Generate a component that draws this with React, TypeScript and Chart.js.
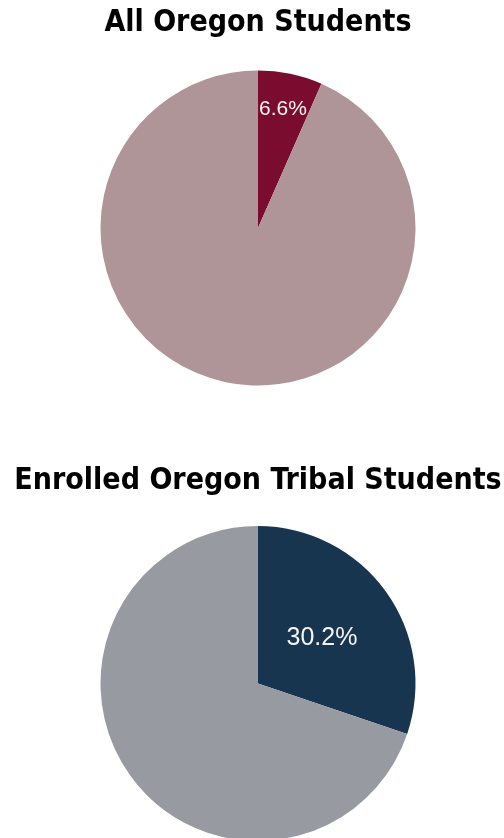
import React, { useEffect, useRef } from "react";
import { Chart, registerables } from "chart.js";

Chart.register(...registerables);

// ---- data ----
const allTitle = "All Oregon Students";
const allLabels = ["Chronically absent", "Not chronically absent"];
const allValues = [6.6, 93.4];
const allColors = ["#7a0d2f", "#b09598"];

const tribalTitle = "Enrolled Oregon Tribal Students";
const tribalLabels = ["Chronically absent", "Not chronically absent"];
const tribalValues = [30.2, 69.8];
const tribalColors = ["#18354f", "#979ba1"];

const TITLE_FONT = "'Liberation Sans Narrow', 'DejaVu Sans Condensed', Arial, sans-serif";
const LABEL_FONT = "'Liberation Sans', Arial, sans-serif";

const sliceLabelPlugin = {
  id: "sliceLabel",
  afterDatasetsDraw(chart: any, _args: any, opts: any) {
    const meta = chart.getDatasetMeta(0);
    const ds = chart.data.datasets[0];
    const ctx = chart.ctx;
    const arc = meta.data[0];
    if (!arc) return;
    const { x, y, startAngle, endAngle, outerRadius } = arc.getProps(
      ["x", "y", "startAngle", "endAngle", "outerRadius"],
      true
    );
    const mid = (startAngle + endAngle) / 2;
    const r = outerRadius * (opts.radiusFrac ?? 0.5);
    const lx = x + Math.cos(mid) * r;
    const ly = y + Math.sin(mid) * r;
    ctx.save();
    ctx.fillStyle = "#f4f4f4";
    ctx.font = `${opts.size ?? 20}px ${LABEL_FONT}`;
    ctx.textAlign = "center";
    ctx.textBaseline = "middle";
    ctx.fillText(ds.data[0].toFixed(1) + "%", lx, ly);
    ctx.restore();
  },
};

function PieChart(props: {
  title: string;
  labels: string[];
  values: number[];
  colors: string[];
  top: number;
  height: number;
  titlePadTop: number;
  titlePadBottom: number;
  padBottom: number;
  labelFrac: number;
  labelSize: number;
}) {
  const ref = useRef<HTMLCanvasElement | null>(null);
  useEffect(() => {
    if (!ref.current) return;
    const chart = new Chart(ref.current, {
      type: "pie",
      data: {
        labels: props.labels,
        datasets: [
          {
            data: props.values,
            backgroundColor: props.colors,
            borderWidth: 0,
            hoverOffset: 0,
          },
        ],
      },
      options: {
        responsive: false,
        animation: false,
        layout: { padding: { top: 0, bottom: props.padBottom, left: 12, right: 0 } },
        plugins: {
          legend: { display: false },
          tooltip: { enabled: false },
          title: {
            display: true,
            text: props.title,
            color: "#000",
            font: { family: TITLE_FONT, size: 30, weight: "bold" },
            padding: { top: props.titlePadTop, bottom: props.titlePadBottom },
          },
          sliceLabel: { radiusFrac: props.labelFrac, size: props.labelSize },
        } as any,
      },
      plugins: [sliceLabelPlugin],
    });
    return () => chart.destroy();
  }, []);
  return (
    <canvas
      ref={ref}
      width={504}
      height={props.height}
      style={{ position: "absolute", left: 0, top: props.top, width: 504, height: props.height }}
    />
  );
}

export default function App() {
  return (
    <div
      style={{
        position: "fixed",
        left: 0,
        top: 0,
        width: 504,
        height: 838,
        overflow: "hidden",
        background: "#fff",
      }}
    >
      <PieChart
        title={allTitle}
        labels={allLabels}
        values={allValues}
        colors={allColors}
        top={0}
        height={400}
        titlePadTop={5}
        titlePadBottom={29.5}
        padBottom={14.5}
        labelFrac={0.77}
        labelSize={21}
      />
      <PieChart
        title={tribalTitle}
        labels={tribalLabels}
        values={tribalValues}
        colors={tribalColors}
        top={440}
        height={420}
        titlePadTop={23}
        titlePadBottom={27}
        padBottom={19}
        labelFrac={0.5}
        labelSize={25}
      />
    </div>
  );
}
